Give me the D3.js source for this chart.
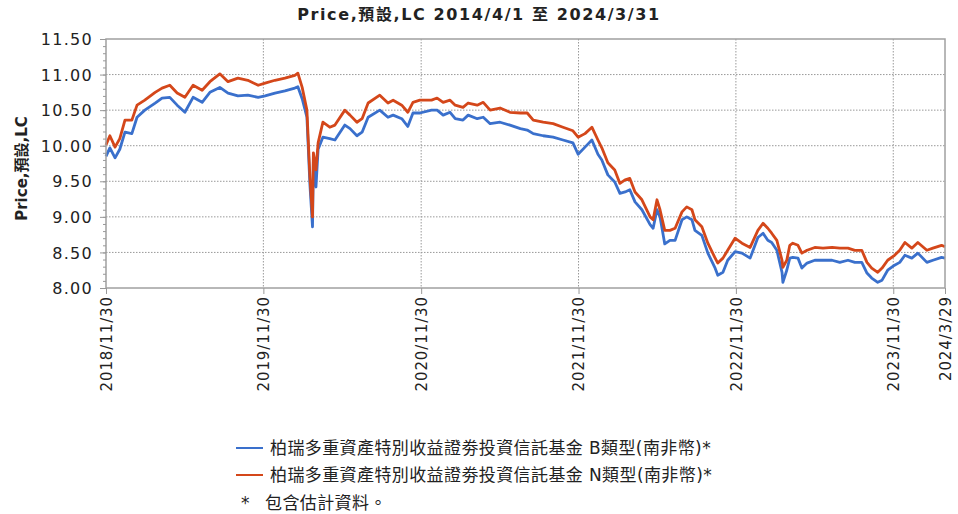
<!DOCTYPE html>
<html><head><meta charset="utf-8">
<script src="https://cdn.jsdelivr.net/npm/d3@7"></script>
<style>
html,body{margin:0;padding:0;background:#fff;}
text{font-family:"DejaVu Sans","Noto Sans CJK TC",sans-serif;}
</style></head>
<body><svg id="c" width="958" height="514"></svg>
<script>
const dates = ["2018-11-30","2018-12-09","2018-12-21","2019-01-01","2019-01-13","2019-01-29","2019-02-10","2019-02-28","2019-03-24","2019-04-09","2019-04-27","2019-05-14","2019-06-01","2019-06-20","2019-07-11","2019-07-29","2019-08-21","2019-09-09","2019-10-02","2019-10-25","2019-11-18","2019-12-04","2019-12-27","2020-01-19","2020-02-11","2020-02-18","2020-02-28","2020-03-10","2020-03-17","2020-03-23","2020-03-25","2020-03-31","2020-04-05","2020-04-16","2020-05-02","2020-05-14","2020-06-06","2020-06-18","2020-07-04","2020-07-16","2020-07-30","2020-08-26","2020-09-14","2020-09-26","2020-10-16","2020-10-30","2020-11-11","2020-11-27","2020-12-24","2021-01-06","2021-01-20","2021-02-05","2021-02-17","2021-03-07","2021-03-19","2021-04-09","2021-04-23","2021-05-09","2021-06-01","2021-06-24","2021-07-18","2021-08-03","2021-08-17","2021-09-09","2021-10-02","2021-10-25","2021-11-17","2021-11-29","2021-12-15","2021-12-31","2022-01-14","2022-01-23","2022-02-06","2022-02-22","2022-03-06","2022-03-18","2022-03-29","2022-04-10","2022-04-26","2022-05-15","2022-05-22","2022-05-31","2022-06-07","2022-06-18","2022-06-30","2022-07-12","2022-07-28","2022-08-08","2022-08-20","2022-08-27","2022-09-12","2022-09-26","2022-10-12","2022-10-19","2022-10-31","2022-11-11","2022-11-28","2022-12-14","2023-01-02","2023-01-20","2023-02-01","2023-02-12","2023-02-21","2023-03-05","2023-03-17","2023-03-19","2023-03-28","2023-04-04","2023-04-11","2023-04-23","2023-05-02","2023-05-14","2023-06-01","2023-06-20","2023-07-11","2023-07-29","2023-08-17","2023-09-02","2023-09-18","2023-09-30","2023-10-11","2023-10-25","2023-11-04","2023-11-17","2023-12-03","2023-12-15","2023-12-27","2024-01-12","2024-01-26","2024-02-16","2024-03-01","2024-03-21","2024-03-29"];

const seriesN = [10.01,10.14,9.98,10.10,10.36,10.36,10.57,10.64,10.75,10.81,10.85,10.74,10.68,10.85,10.78,10.90,11.01,10.90,10.95,10.92,10.85,10.88,10.92,10.95,10.99,11.02,10.82,10.50,9.56,9.00,9.90,9.66,10.04,10.33,10.26,10.29,10.50,10.43,10.33,10.38,10.60,10.71,10.60,10.64,10.57,10.47,10.61,10.64,10.64,10.67,10.61,10.64,10.57,10.54,10.60,10.57,10.61,10.50,10.53,10.47,10.46,10.46,10.36,10.33,10.31,10.26,10.21,10.12,10.17,10.26,10.08,9.97,9.76,9.66,9.47,9.52,9.54,9.35,9.24,9.00,8.96,9.24,9.10,8.81,8.81,8.84,9.07,9.14,9.10,8.96,8.86,8.63,8.43,8.35,8.42,8.53,8.70,8.63,8.57,8.81,8.91,8.84,8.77,8.67,8.39,8.29,8.39,8.60,8.63,8.60,8.49,8.53,8.57,8.56,8.57,8.56,8.56,8.53,8.53,8.36,8.28,8.22,8.28,8.39,8.46,8.53,8.64,8.56,8.64,8.53,8.56,8.60,8.58];

const seriesB = [9.85,9.97,9.83,9.95,10.19,10.17,10.40,10.50,10.60,10.67,10.68,10.57,10.47,10.68,10.61,10.75,10.82,10.74,10.70,10.71,10.68,10.70,10.74,10.77,10.81,10.83,10.66,10.40,9.45,8.86,9.78,9.42,9.95,10.12,10.10,10.08,10.29,10.24,10.14,10.19,10.40,10.50,10.40,10.43,10.38,10.27,10.46,10.46,10.50,10.50,10.43,10.47,10.38,10.36,10.43,10.38,10.40,10.31,10.33,10.29,10.24,10.22,10.17,10.14,10.12,10.08,10.04,9.88,9.98,10.08,9.88,9.80,9.59,9.49,9.33,9.35,9.38,9.21,9.10,8.89,8.84,9.10,9.00,8.62,8.67,8.67,8.96,9.00,8.96,8.81,8.74,8.49,8.29,8.18,8.22,8.39,8.51,8.49,8.42,8.71,8.77,8.67,8.64,8.53,8.22,8.08,8.25,8.42,8.43,8.42,8.28,8.35,8.39,8.39,8.39,8.36,8.39,8.36,8.36,8.21,8.14,8.08,8.11,8.25,8.32,8.36,8.46,8.42,8.49,8.36,8.39,8.43,8.42];

const xTickLabels = ["2018/11/30","2019/11/30","2020/11/30","2021/11/30","2022/11/30","2023/11/30","2024/3/29"];
const yTickValues = [8.00,8.50,9.00,9.50,10.00,10.50,11.00,11.50];
const seriesNames = ["柏瑞多重資產特別收益證劵投資信託基金 B類型(南非幣)*","柏瑞多重資產特別收益證劵投資信託基金 N類型(南非幣)*"];
const titleText = "Price,預設,LC 2014/4/1 至 2024/3/31";
const yTitle = "Price,預設,LC";
const noteText = "包含估計資料。";

const parse = d3.timeParse("%Y-%m-%d");
const parseTick = d3.timeParse("%Y/%m/%d");
const colors = ["#3a70cc","#d4471a"];

const svg = d3.select("#c");
const m = {left:106, right:945, top:39, bottom:288};

const x = d3.scaleTime()
  .domain([parseTick("2018/11/30"), parseTick("2024/3/29")])
  .range([m.left, m.right]);
const y = d3.scaleLinear().domain([8, 11.5]).range([m.bottom, m.top]);

// title
svg.append("text").attr("x", 479).attr("y", 20).attr("text-anchor","middle")
  .attr("font-size", 16).attr("font-weight","bold").attr("letter-spacing",1.6)
  .attr("fill","#222").text(titleText);

// gridlines
const xTicks = xTickLabels.map(s => parseTick(s));
svg.append("g").selectAll("line").data(yTickValues.slice(1,-1)).join("line")
  .attr("x1", m.left).attr("x2", m.right)
  .attr("y1", d=>y(d)).attr("y2", d=>y(d))
  .attr("stroke","#999").attr("stroke-dasharray","1.5,1.5").attr("stroke-width",1);
svg.append("g").selectAll("line").data(xTicks.slice(1,-1)).join("line")
  .attr("x1", d=>x(d)).attr("x2", d=>x(d))
  .attr("y1", m.top).attr("y2", m.bottom)
  .attr("stroke","#999").attr("stroke-dasharray","1.5,1.5").attr("stroke-width",1);

// lines
const line = d3.line().x((d,i)=>x(parse(dates[i]))).y(d=>y(d));
[seriesB, seriesN].forEach((s,k)=>{
  svg.append("path").datum(s).attr("d", line)
    .attr("fill","none").attr("stroke", colors[k]).attr("stroke-width",2.8)
    .attr("stroke-linejoin","round");
});

// frame
svg.append("rect").attr("x", m.left).attr("y", m.top)
  .attr("width", m.right-m.left).attr("height", m.bottom-m.top)
  .attr("fill","none").attr("stroke","#a0a0a0").attr("stroke-width",1.5);

// y axis
const yAxis = d3.axisLeft(y).tickValues(yTickValues).tickFormat(d3.format(".2f")).tickSize(6).tickPadding(7);
const gy = svg.append("g").attr("transform",`translate(${m.left},0)`).call(yAxis);
gy.select(".domain").remove();
gy.selectAll(".tick line").attr("stroke","#999");
gy.selectAll(".tick text").attr("font-size",16).attr("letter-spacing",1.3).attr("fill","#222")
  .style("font-family","'DejaVu Sans',sans-serif").attr("dy","0.35em");
const yMinor = d3.axisLeft(y).ticks(35).tickFormat("").tickSize(3);
const gym = svg.append("g").attr("transform",`translate(${m.left},0)`).call(yMinor);
gym.select(".domain").remove();
gym.selectAll(".tick line").attr("stroke","#999");

// x axis
const xAxis = d3.axisBottom(x).tickValues(xTicks).tickFormat((d,i)=>xTickLabels[i]).tickSize(6).tickPadding(4);
const gx = svg.append("g").attr("transform",`translate(0,${m.bottom})`).call(xAxis);
gx.select(".domain").remove();
gx.selectAll(".tick line").attr("stroke","#999");
gx.selectAll(".tick text").attr("font-size",15).attr("letter-spacing",0.9).attr("fill","#222")
  .attr("transform","rotate(-90)").attr("text-anchor","end")
  .attr("x",-8).attr("y",0).attr("dy","0.35em")
  .style("font-family","'DejaVu Sans',sans-serif");

// y title
svg.append("text").attr("transform",`translate(27,${(m.top+m.bottom)/2+5}) rotate(-90)`)
  .attr("text-anchor","middle").attr("font-size",15).attr("font-weight","bold")
  .attr("fill","#222").text(yTitle);

// legend
const lg = svg.append("g");
seriesNames.forEach((n,i)=>{
  const yy = 448 + i*27;
  lg.append("line").attr("x1",236).attr("x2",263).attr("y1",yy).attr("y2",yy)
    .attr("stroke",colors[i]).attr("stroke-width",2);
  lg.append("text").attr("x",270).attr("y",yy).attr("dy","0.35em")
    .attr("font-size",17).attr("letter-spacing",0.4).attr("fill","#222").text(n);
});
lg.append("text").attr("x",241).attr("y",503).attr("dy","0.35em").attr("font-size",17).attr("fill","#222").text("*");
lg.append("text").attr("x",265).attr("y",503).attr("dy","0.35em").attr("font-size",17).attr("letter-spacing",0.4).attr("fill","#222").text(noteText);
</script></body></html>
